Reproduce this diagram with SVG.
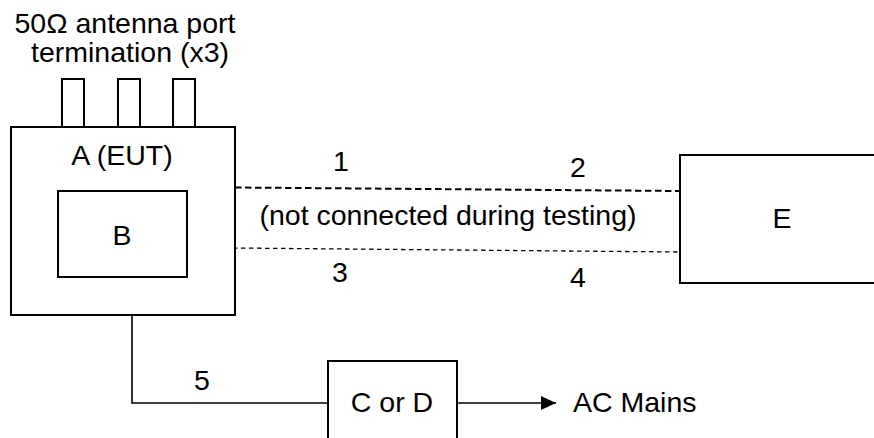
<svg xmlns="http://www.w3.org/2000/svg" width="874" height="438" viewBox="0 0 874 438">
<defs>
<style>
text{font-family:"Liberation Sans",Arial,sans-serif;font-size:28.5px;fill:#000;text-anchor:middle}
.box{fill:#fff;stroke:#000;stroke-width:2}
.ln{fill:none;stroke:#000;stroke-width:1.6}
.d1{fill:none;stroke:#000;stroke-width:2;stroke-dasharray:6.5 3.5}
.d2{fill:none;stroke:#000;stroke-width:1.3;stroke-dasharray:4.5 3.5}
</style>
<marker id="arr" markerWidth="16" markerHeight="14" refX="15" refY="7" orient="auto" markerUnits="userSpaceOnUse">
<path d="M0,0 L15,7 L0,14 Z" fill="#000"/>
</marker>
</defs>
<rect width="874" height="438" fill="#fff"/>
<g id="label-antenna">
<text x="125" y="33">50Ω antenna port</text>
<text x="130" y="62">termination (x3)</text>
</g>
<g id="antennas">
<rect class="box" x="62" y="79" width="22" height="48"/>
<rect class="box" x="118" y="79" width="22" height="48"/>
<rect class="box" x="173" y="79" width="22" height="48"/>
</g>
<g id="connectors">
<path class="d1" d="M235,187.5 L680,191"/>
<path class="d2" d="M233,248 L680,252"/>
<path class="ln" d="M132,315 L132,403 L328,403"/>
<path class="ln" d="M457,403 L556,403" marker-end="url(#arr)"/>
<text x="341" y="171">1</text>
<text x="578" y="177">2</text>
<text x="340" y="282">3</text>
<text x="578" y="287">4</text>
<text x="202" y="390">5</text>
<text x="448" y="225">(not connected during testing)</text>
</g>
<g id="node-A">
<rect class="box" x="11" y="127" width="224" height="188"/>
<text x="122" y="165">A (EUT)</text>
</g>
<g id="node-B">
<rect class="box" x="58" y="191" width="129" height="86"/>
<text x="122" y="245">B</text>
</g>
<g id="node-E">
<rect class="box" x="680" y="155" width="210" height="128"/>
<text x="782" y="228">E</text>
</g>
<g id="node-CD">
<rect class="box" x="328" y="361" width="129" height="90"/>
<text x="392" y="412">C or D</text>
</g>
<g id="node-AC">
<text x="573" y="412" style="text-anchor:start">AC Mains</text>
</g>
</svg>
